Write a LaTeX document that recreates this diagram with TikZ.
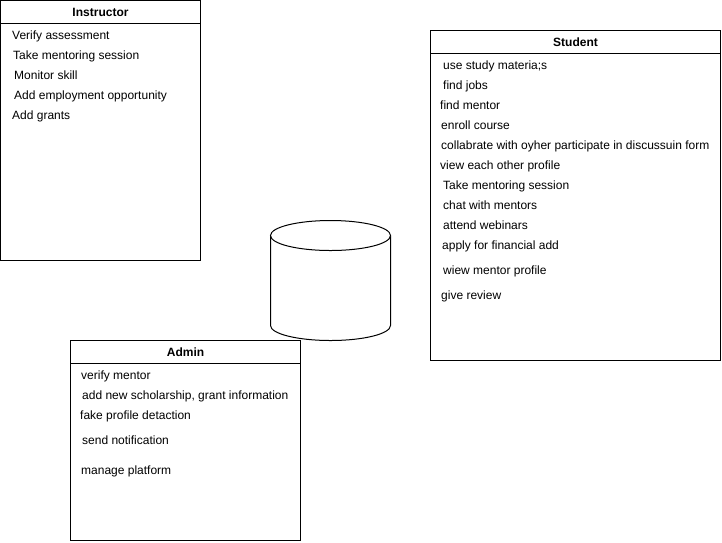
\documentclass[tikz,border=0pt]{standalone}
\usepackage{fontspec}
\setmainfont{Liberation Sans}
\begin{document}
\begin{tikzpicture}[x=1pt,y=-1pt,
  box/.style={draw=black,line width=1pt,fill=white},
  item/.style={anchor=base west,inner sep=0pt,font=\fontsize{12}{14}\selectfont},
  ttl/.style={inner sep=0pt,font=\fontsize{12}{14}\selectfont\bfseries}]
\useasboundingbox (0,0) rectangle (722,542);
% Instructor
\draw[box] (0.5,0.5) rectangle (200.5,260.5);
\draw[line width=1pt] (0.5,23.5) -- (200.5,23.5);
\node[ttl] (it) at (100.5,12) {Instructor};
\node[item] (i1) at (12,39) {Verify assessment};
\node[item] (i2) at (13,59) {Take mentoring session};
\node[item] (i3) at (14,79) {Monitor skill};
\node[item] (i4) at (14,99) {Add employment opportunity};
\node[item] (i5) at (12,119) {Add grants};
% Student
\draw[box] (430.5,30.5) rectangle (720.5,360.5);
\draw[line width=1pt] (430.5,53.5) -- (720.5,53.5);
\node[ttl] (st) at (575.5,42) {Student};
\node[item] (s1) at (443,69) {use study materia;s};
\node[item] (s2) at (443,89) {find jobs};
\node[item] (s3) at (440,109) {find mentor};
\node[item] (s4) at (441,129) {enroll course};
\node[item] (s5) at (441,149) {collabrate with oyher participate in discussuin form};
\node[item] (s6) at (440,169) {view each other profile};
\node[item] (s7) at (443,189) {Take mentoring session};
\node[item] (s8) at (443,209) {chat with mentors};
\node[item] (s9) at (443,229) {attend webinars};
\node[item] (s10) at (442,249) {apply for financial add};
\node[item] (s11) at (443,274) {wiew mentor profile};
\node[item] (s12) at (441,299) {give review};
% Admin
\draw[box] (70.5,340.5) rectangle (300.5,540.5);
\draw[line width=1pt] (70.5,363.5) -- (300.5,363.5);
\node[ttl] (at) at (185.5,352) {Admin};
\node[item] (a1) at (81,379) {verify mentor};
\node[item] (a2) at (82,399) {add new scholarship, grant information};
\node[item] (a3) at (80,419) {fake profile detaction};
\node[item] (a4) at (82,444) {send notification};
\node[item] (a5) at (81,474) {manage platform};
% Cylinder
\draw[line width=1pt,fill=white] (270.5,235.5) -- (270.5,325.5)
  arc[start angle=180,end angle=0,x radius=60,y radius=15] -- (390.5,235.5);
\draw[line width=1pt,fill=white] (330.5,235.5) ellipse[x radius=60,y radius=15];
\end{tikzpicture}
\end{document}
